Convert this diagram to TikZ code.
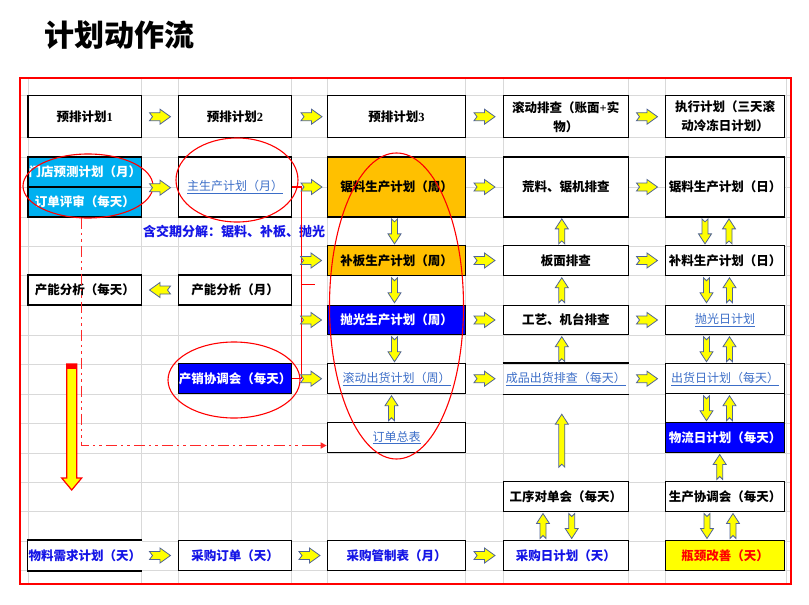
\documentclass[tikz,border=0pt]{standalone}
\usepackage{fontspec}
\setmainfont{Noto Sans CJK SC}
\newfontfamily\lat{Liberation Serif}
\usetikzlibrary{calc,arrows.meta}
\definecolor{cyanfill}{RGB}{0,176,240}
\definecolor{orangefill}{RGB}{255,192,0}
\definecolor{bluefill}{RGB}{0,0,255}
\definecolor{linkblue}{RGB}{60,110,200}
\definecolor{txtblue}{RGB}{20,20,230}
\definecolor{arrowedge}{RGB}{80,100,150}
\definecolor{gridgray}{RGB}{217,217,217}
\definecolor{framered}{RGB}{255,0,0}
\definecolor{dashred}{RGB}{255,40,40}
\definecolor{arrowyellow}{RGB}{255,255,0}
\tikzset{
  box/.style={draw=black, line width=1.3pt, inner sep=0pt, align=center, fill=white, text=black,
    font=\bfseries\fontsize{12.5}{15}\selectfont},
  twoline/.style={font=\bfseries\fontsize{12.5}{19}\selectfont},
  lnk/.style={font=\mdseries\fontsize{12}{15}\selectfont, text=linkblue},
  wA/.style={minimum width=113.7pt},
  wB/.style={minimum width=113.4pt},
  wC/.style={minimum width=138.4pt},
  wD/.style={minimum width=125pt},
  wE/.style={minimum width=118.6pt},
  hTop/.style={minimum height=42pt},
  hDbl/.style={minimum height=60pt},
  hRow/.style={minimum height=29.5pt},
  cyanbox/.style={fill=cyanfill, text=white},
  orangebox/.style={fill=orangefill},
  bluebox/.style={fill=bluefill, text=white},
  bluetext/.style={text=txtblue},
  gridline/.style={draw=gridgray, line width=0.8pt},
  blockarrow/.style={fill=arrowyellow, draw=arrowedge, line width=0.8pt, line join=miter},
  redline/.style={draw=framered, line width=1.1pt},
  ddash/.style={color=dashred, line width=1.6pt, dash pattern=on 11pt off 4pt on 2.5pt off 4pt on 2.5pt off 4pt},
  pics/harr/.style={code={
    \filldraw[blockarrow] (-10.5,-4) -- (0,-4) -- (0,-7.5) -- (10.5,0) -- (0,7.5) -- (0,4) -- (-10.5,4) -- (-7.5,0) -- cycle;}},
  pics/varr/.style={code={
    \filldraw[blockarrow] (0,{-#1/2}) -- (6.5,{-#1/2+10}) -- (3,{-#1/2+10}) -- (3,{#1/2}) -- (0,{#1/2-3}) -- (-3,{#1/2}) -- (-3,{-#1/2+10}) -- (-6.5,{-#1/2+10}) -- cycle;}},
}
\begin{document}
\begin{tikzpicture}[x=1pt,y=-1pt]
\useasboundingbox (0,0) rectangle (809,605);
\fill[white] (0,0) rectangle (809,605);

% grid
\foreach \gx in {28,141.7,178.3,291.7,327.3,465.7,503.3,628.3,665.7,786.7}
  \draw[gridline] (\gx,78) -- (\gx,584);
\foreach \gy in {95.7,137.7,157,187,217,246,275,305,335,364,394,423,453,482,511,541,570}
  \draw[gridline] (20,\gy) -- (791,\gy);

% frame
\draw[framered, line width=2pt] (20,78) rectangle (791,584);

% title
\node[anchor=west, inner sep=0pt, font=\bfseries\fontsize{30}{30}\selectfont] (title) at (44,35) {计划动作流};

% row 0
\node[box,wA,hTop] (A0) at (84.85,116.7) {预排计划{\lat 1}};
\node[box,wB,hTop] (B0) at (235,116.7) {预排计划{\lat 2}};
\node[box,wC,hTop] (C0) at (396.5,116.7) {预排计划{\lat 3}};
\node[box,twoline,wD,hTop] (D0) at (565.8,116.7) {滚动排查（账面{\lat +}实\\物）};
\node[box,twoline,wE,hTop] (E0) at (725,116.7) {执行计划（三天滚\\动冷冻日计划）};

% rows 1-2
\node[box,cyanbox,wA,minimum height=30pt] (A1) at (84.85,172) {门店预测计划（月）};
\node[box,cyanbox,wA,minimum height=30pt] (A2) at (84.85,202) {订单评审（每天）};
\node[box,lnk,wB,hDbl] (B12) at (235,187) {\underline{主生产计划（月）}};
\node[box,orangebox,wC,hDbl] (C12) at (396.5,187) {锯料生产计划（周）};
\node[box,wD,hDbl] (D12) at (565.8,187) {荒料、锯机排查};
\node[box,wE,hDbl] (E12) at (725,187) {锯料生产计划（日）};

\node[anchor=west, inner sep=0pt, font=\bfseries\fontsize{13}{15}\selectfont, text=txtblue] (note) at (143,231.5) {含交期分解：锯料、补板、抛光};

% row 4
\node[box,orangebox,wC,hRow] (C4) at (396.5,260.5) {补板生产计划（周）};
\node[box,wD,hRow] (D4) at (565.8,260.5) {板面排查};
\node[box,wE,hRow] (E4) at (725,260.5) {补料生产计划（日）};

% row 5
\node[box,wA,minimum height=30pt] (A5) at (84.85,290) {产能分析（每天）};
\node[box,wB,minimum height=30pt] (B5) at (235,290) {产能分析（月）};

% row 6
\node[box,bluebox,wC,hRow] (C6) at (396.5,320) {抛光生产计划（周）};
\node[box,wD,hRow] (D6) at (565.8,320) {工艺、机台排查};
\node[box,lnk,wE,hRow] (E6) at (725,320) {\underline{抛光日计划}};

% row 8
\node[box,bluebox,wB,minimum height=30pt] (B8) at (235,378.7) {产销协调会（每天）};
\node[box,lnk,wC,minimum height=30pt] (C8) at (396.5,378.7) {\underline{滚动出货计划（周）}};
\node[box,lnk,wD,minimum height=30pt,draw=none,fill=none] (D8) at (565.8,378.7) {\underline{成品出货排查（每天）}};
\draw[line width=1.3pt] (D8.north west) -- (D8.north east) (D8.south west) -- (D8.south east);
\node[box,lnk,wE,minimum height=30pt] (E8) at (725,378.7) {\underline{出货日计划（每天）}};

% row 9-10
\node[box,wE,hRow] (E9) at (725,408.5) {};
\node[box,lnk,wC,hRow] (C10) at (396.5,437.5) {\underline{订单总表}};
\node[box,bluebox,wE,hRow] (E10) at (725,437.5) {物流日计划（每天）};

% row 12
\node[box,wD,hRow] (D12b) at (565.8,496.5) {工序对单会（每天）};
\node[box,wE,hRow] (E12b) at (725,496.5) {生产协调会（每天）};

% row 14
\node[box,bluetext,wA,hRow,draw=none] (A14) at (84.85,555.5) {物料需求计划（天）};
\draw[line width=1.3pt] (A14.north east) -- (A14.north west) -- (A14.south west) -- (A14.south east);
\node[box,bluetext,wB,hRow] (B14) at (235,555.5) {采购订单（天）};
\node[box,bluetext,wC,hRow] (C14) at (396.5,555.5) {采购管制表（月）};
\node[box,bluetext,wD,hRow] (D14) at (565.8,555.5) {采购日计划（天）};
\node[box,wE,hRow,fill=arrowyellow,text=framered] (E14) at (725,555.5) {瓶颈改善（天）};

% ellipses
\draw[redline] (88,186) ellipse [x radius=65, y radius=32];
\draw[redline] (237,180) ellipse [x radius=61, y radius=42];
\draw[redline] (396.5,306) ellipse [x radius=67, y radius=153];
\draw[redline] (234,380) ellipse [x radius=66, y radius=38];

% red bracket
\draw[redline] (B12.east) -- ++(9,0) coordinate (brtop) |- (B8.east);
\draw[redline] (300.7,284.3) -- (315,284.3);

% horizontal block arrows
\pic at ($(A0.east)!.5!(B0.west)$) {harr};
\pic at ($(B0.east)!.5!(C0.west)+(2,0)$) {harr};
\pic at ($(C0.east)!.5!(D0.west)$) {harr};
\pic at ($(D0.east)!.5!(E0.west)$) {harr};
\pic at ($(A2.north east)!.5!(B12.west)+(0,1)$) {harr};
\pic at ($(B12.east)!.5!(C12.west)+(2,0)$) {harr};
\pic at ($(C12.east)!.5!(D12.west)$) {harr};
\pic at ($(D12.east)!.5!(E12.west)$) {harr};
\pic at ($(C4.west)+(-15.6,0)$) {harr};
\pic at ($(C4.east)!.5!(D4.west)$) {harr};
\pic at ($(D4.east)!.5!(E4.west)$) {harr};
\pic[rotate=180] at ($(A5.east)!.5!(B5.west)$) {harr};
\pic at ($(C6.west)+(-15.6,0)$) {harr};
\pic at ($(C6.east)!.5!(D6.west)$) {harr};
\pic at ($(D6.east)!.5!(E6.west)$) {harr};
\pic at ($(C8.west)+(-15.6,0)$) {harr};
\pic at ($(C8.east)!.5!(D8.west)$) {harr};
\pic at ($(D8.east)!.5!(E8.west)$) {harr};
\pic at ($(A14.east)!.5!(B14.west)$) {harr};
\pic at ($(B14.east)!.5!(C14.west)$) {harr};
\pic at ($(C14.east)!.5!(D14.west)$) {harr};

% vertical block arrows: column C
\pic[rotate=180] at ($(C12.south)!.5!(C4.north)+(-2,0)$) {varr=25};
\pic[rotate=180] at ($(C4.south)!.5!(C6.north)+(-2,0)$) {varr=25};
\pic[rotate=180] at ($(C6.south)!.5!(C8.north)+(-2,0)$) {varr=25};
\pic at ($(C8.south)!.5!(C10.north)+(-5,0)$) {varr=25};
% column D
\pic at ($(D12.south)!.5!(D4.north)+(-4,0)$) {varr=25};
\pic at ($(D4.south)!.5!(D6.north)+(-4,0)$) {varr=25};
\pic at ($(D6.south)!.5!(D8.north)+(-4,0)$) {varr=25};
\pic at ($(D8.south)!.5!(D12b.north)+(-4,3)$) {varr=53};
\pic at ($(D12b.south)!.5!(D14.north)+(-22.8,0)$) {varr=25};
\pic[rotate=180] at ($(D12b.south)!.5!(D14.north)+(5.9,0)$) {varr=25};
% column E
\pic[rotate=180] at ($(E12.south)!.5!(E4.north)+(-20,0)$) {varr=25};
\pic at ($(E12.south)!.5!(E4.north)+(4,0)$) {varr=25};
\pic[rotate=180] at ($(E4.south)!.5!(E6.north)+(-18.5,0)$) {varr=25};
\pic at ($(E4.south)!.5!(E6.north)+(4.5,0)$) {varr=25};
\pic[rotate=180] at ($(E6.south)!.5!(E8.north)+(-18.5,0)$) {varr=25};
\pic at ($(E6.south)!.5!(E8.north)+(4.5,0)$) {varr=25};
\pic[rotate=180] at ($(E8.south)!.5!(E10.north)+(-18.5,0)$) {varr=25};
\pic at ($(E8.south)!.5!(E10.north)+(4.5,0)$) {varr=25};
\pic at ($(E10.south)!.5!(E12b.north)+(-5.3,0)$) {varr=25};
\pic[rotate=180] at ($(E12b.south)!.5!(E14.north)+(-18,0)$) {varr=25};
\pic at ($(E12b.south)!.5!(E14.north)+(8,0)$) {varr=25};

% big red-bordered arrow
\filldraw[fill=arrowyellow, draw=framered, line width=1.2pt, line join=miter]
  (66.7,364) -- (76.7,364) -- (76.7,478) -- (81.7,478) -- (71.7,490) -- (61.7,478) -- (66.7,478) -- cycle;
\fill[framered] (66.7,364) rectangle (76.7,369);

% dash-dot line to order table
\coordinate (ddend) at (303,445.5);
\draw[ddash] ([xshift=-3.2pt]A2.south) |- (ddend);
\draw[color=dashred, line width=1.4pt, -{Triangle[length=6pt,width=6pt]}] (ddend) -- (ddend -| C10.west);

\end{tikzpicture}
\end{document}
